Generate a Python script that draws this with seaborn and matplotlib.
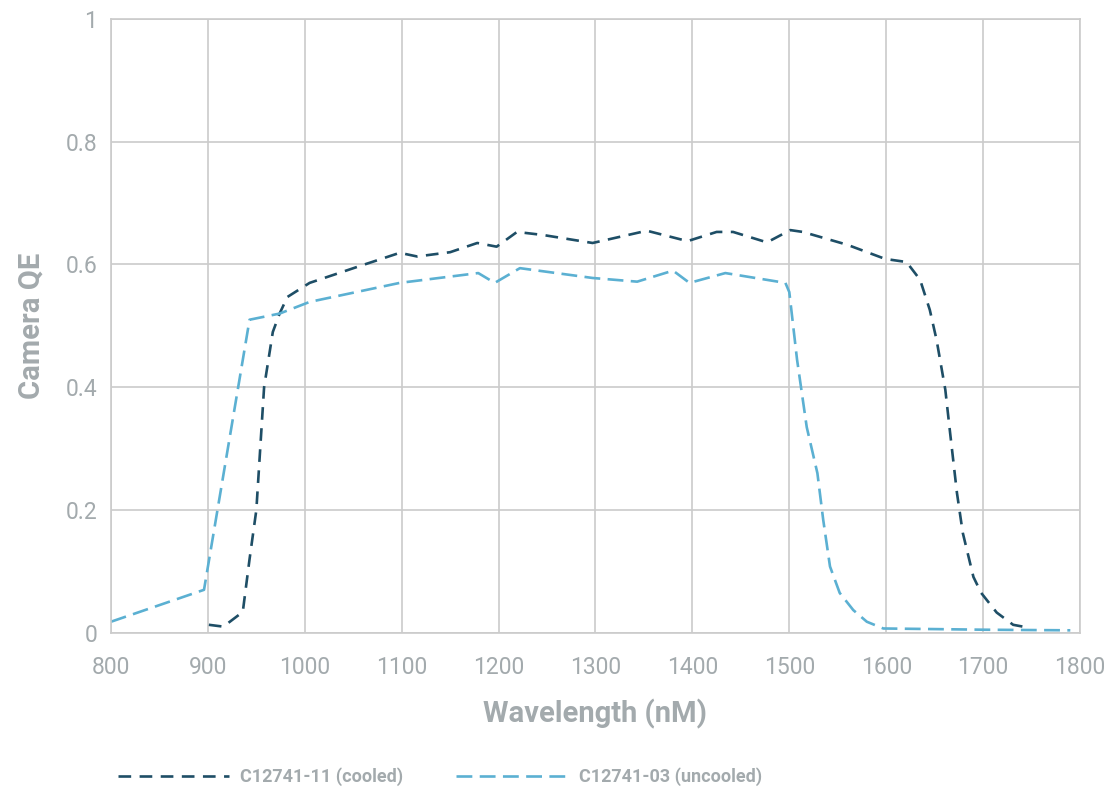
import numpy as np
import pandas as pd
import matplotlib
matplotlib.use("Agg")
import matplotlib.pyplot as plt
import seaborn as sns

# C12741-11 (cooled)
cooled_wl = [901, 916, 936, 943, 950, 958, 967, 974, 982, 1005, 1054, 1098, 1116,
             1150, 1178, 1198, 1219, 1246, 1297, 1353, 1395, 1425, 1442, 1477, 1501,
             1514, 1560, 1599, 1621, 1635, 1645, 1652, 1661, 1666, 1673, 1679, 1690,
             1698, 1714, 1731, 1748]
cooled_qe = [0.013, 0.010, 0.034, 0.12, 0.20, 0.40, 0.49, 0.52, 0.547, 0.570, 0.596,
             0.619, 0.613, 0.620, 0.635, 0.629, 0.653, 0.648, 0.635, 0.655, 0.638,
             0.653, 0.653, 0.636, 0.656, 0.653, 0.632, 0.609, 0.604, 0.575, 0.526,
             0.477, 0.396, 0.325, 0.228, 0.163, 0.091, 0.065, 0.033, 0.013, 0.008]

# C12741-03 (uncooled)
uncooled_wl = [800, 896, 943, 974, 1005, 1098, 1179, 1196, 1222, 1297, 1343, 1380,
               1397, 1434, 1496, 1500, 1508, 1518, 1529, 1535, 1542, 1552, 1566, 1580,
               1597, 1650, 1700, 1790]
uncooled_qe = [0.018, 0.070, 0.510, 0.520, 0.539, 0.570, 0.586, 0.570, 0.594, 0.578,
               0.572, 0.590, 0.570, 0.586, 0.570, 0.555, 0.445, 0.335, 0.260, 0.184,
               0.108, 0.065, 0.037, 0.018, 0.007, 0.006, 0.005, 0.004]

x_ticks = [800, 900, 1000, 1100, 1200, 1300, 1400, 1500, 1600, 1700, 1800]
y_ticks = [0, 0.2, 0.4, 0.6, 0.8, 1.0]
y_tick_labels = ["0", "0.2", "0.4", "0.6", "0.8", "1"]

df = pd.concat([
    pd.DataFrame({"wl": cooled_wl, "qe": cooled_qe, "camera": "C12741-11 (cooled)"}),
    pd.DataFrame({"wl": uncooled_wl, "qe": uncooled_qe, "camera": "C12741-03 (uncooled)"}),
])

sns.set_theme(style="whitegrid")
plt.rcParams["font.family"] = ["Roboto", "DejaVu Sans"]

grey = "#a3aaad"
palette = {"C12741-11 (cooled)": "#1e4e66", "C12741-03 (uncooled)": "#5bb0d2"}
dashes = {"C12741-11 (cooled)": (4.8, 3.2), "C12741-03 (uncooled)": (6, 2.8)}

fig = plt.figure(figsize=(11.11, 7.89), dpi=100)
ax = fig.add_axes([0.0999, 0.198, 0.8722, 0.778])

sns.lineplot(data=df, x="wl", y="qe", hue="camera", style="camera",
             palette=palette, dashes=dashes, linewidth=1.9, sort=False,
             estimator=None, ax=ax)

ax.set_xlim(800, 1800)
ax.set_ylim(0, 1)
ax.set_xticks(x_ticks)
ax.set_yticks(y_ticks)
ax.set_yticklabels(y_tick_labels)
ax.grid(True, color="#cbcbcb", linewidth=1.2)
for s in ax.spines.values():
    s.set_color("#cbcbcb")
    s.set_linewidth(1.2)
ax.tick_params(axis="both", length=0, labelsize=16.5, labelcolor=grey)
ax.tick_params(axis="x", pad=17)
ax.tick_params(axis="y", pad=10)

ax.set_xlabel("Wavelength (nM)", fontsize=21, fontweight="bold", color=grey, labelpad=14)
ax.set_ylabel("Camera QE", fontsize=21, fontweight="bold", color=grey, labelpad=14)

handles, labels = ax.get_legend_handles_labels()
leg = ax.legend(handles, labels, loc="center left", bbox_to_anchor=(-0.01, -0.235),
                ncol=2, frameon=False, handlelength=6.2, columnspacing=2.9,
                handletextpad=0.6, prop={"size": 13, "weight": "bold"})
for t in leg.get_texts():
    t.set_color(grey)

fig.savefig("out.png", dpi=100)
